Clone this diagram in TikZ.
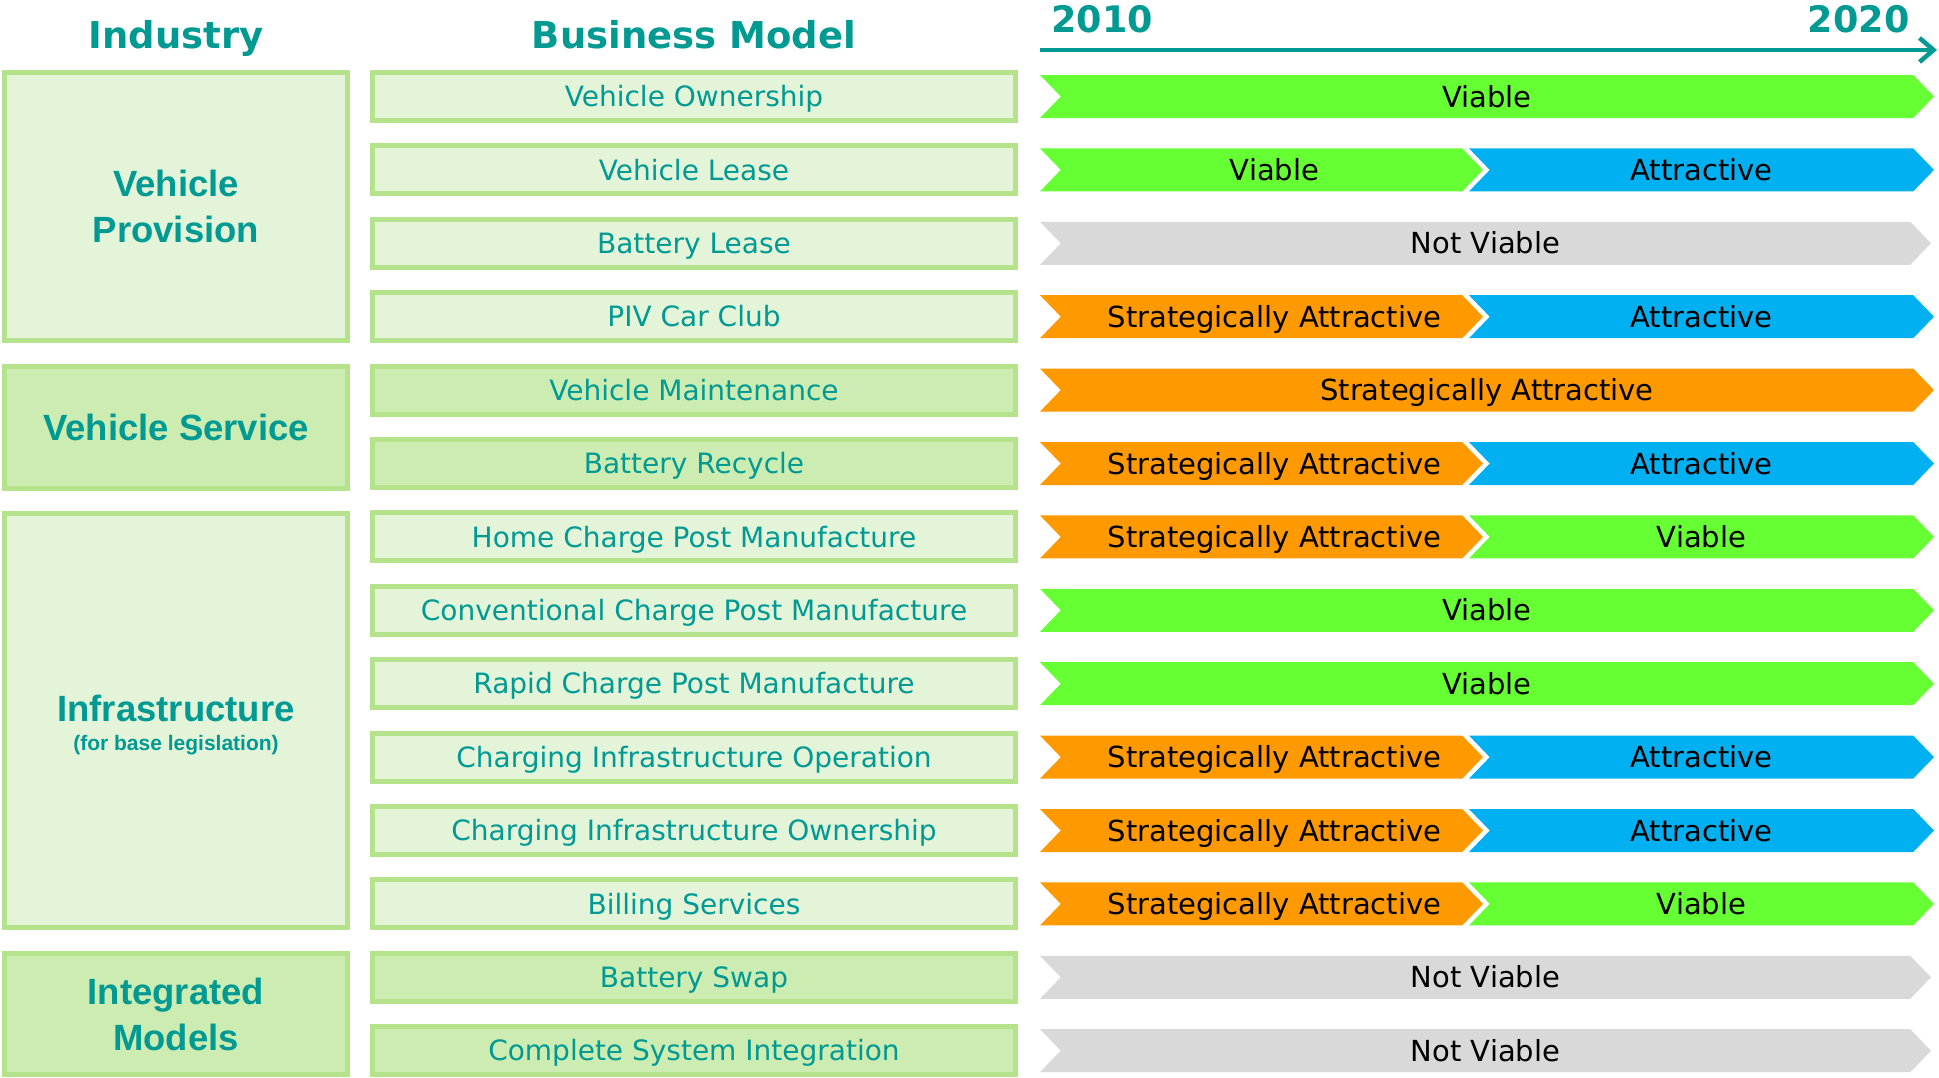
\documentclass[tikz,border=0pt]{standalone}
\usepackage{fontspec}
\setmainfont{DejaVu Sans}
\newfontfamily\arialfont{Liberation Sans}
\usetikzlibrary{positioning,shapes.symbols,arrows.meta}
\definecolor{tealtxt}{HTML}{009A93}
\definecolor{lightbox}{HTML}{E3F4D8}
\definecolor{darkbox}{HTML}{CCECB1}
\definecolor{boxline}{HTML}{B4E38C}
\definecolor{cgreen}{HTML}{66FF33}
\definecolor{cblue}{HTML}{00B0F0}
\definecolor{corange}{HTML}{FF9900}
\definecolor{cgrey}{HTML}{D9D9D9}

\begin{document}
\begin{tikzpicture}[x=1pt, y=-1pt, node distance={73.4pt},
    head/.style = {text=tealtxt, anchor=base, font=\fontsize{37}{44}\selectfont\bfseries},
    ind/.style = {draw=boxline, line width=5pt, minimum width=343pt, inner sep=0pt, text=tealtxt, align=center, font=\arialfont\fontsize{36.5}{46}\selectfont\bfseries},
    bm/.style = {draw=boxline, line width=5pt, fill=lightbox, minimum width=643pt, minimum height=48pt, inner sep=0pt, text height=27pt, text depth=6.5pt, text=tealtxt, font=\fontsize{28}{34}\selectfont},
    chev/.style = {signal, signal from=west, signal to=east, signal pointer angle=92, minimum height=43pt, inner sep=0pt, text height=28pt, text depth=6.8pt, font=\fontsize{29}{35}\selectfont},
    full/.style = {chev, minimum width=894pt},
    early/.style = {chev, minimum width=443pt, execute at begin node={\hspace{26pt}}},
    late/.style = {chev, minimum width=465pt},
    viable/.style = {fill=cgreen},
    attr/.style = {fill=cblue},
    strat/.style = {fill=corange},
    notv/.style = {fill=cgrey, minimum width=891pt, xshift=-1.5pt}]
    \useasboundingbox (0,0) rectangle (1939,1077);

    % headings and time line
    \node[head] (industry) at (176,48) {Industry};
    \node[head] (model) at (694,48) {Business Model};
    \node[head, anchor=base west, font=\fontsize{36.5}{43}\selectfont\bfseries] (start) at (1048,32) {2010};
    \node[head, anchor=base east, font=\fontsize{36.5}{43}\selectfont\bfseries] (finish) at (1913,32) {2020};
    \coordinate (t0) at (1040,50);
    \coordinate (t1) at (1937,50);
    \draw[tealtxt, line width=4.5pt, -{Straight Barb[length=14pt,width=24pt]}] (t0) -- (t1);

    % industries
    \node[ind, fill=lightbox, minimum height=268pt] (prov) at (176,206.6) {Vehicle\\Provision};
    \node[ind, fill=darkbox, minimum height=122pt] (serv) at (176,427) {Vehicle Service};
    \node[ind, fill=lightbox, minimum height=414.5pt] (infra) at (176,720.6) {};
    \node[head, font=\arialfont\fontsize{36.5}{43}\selectfont\bfseries] (infratitle) at (176,721) {Infrastructure};
    \node[head, font=\arialfont\fontsize{21}{25}\selectfont\bfseries] (infranote) at (176,750) {(for base legislation)};
    \node[ind, fill=darkbox, minimum height=121pt] (integ) at (176,1014) {Integrated\\Models};

    % business models
    \node[bm] (b1) at (694,96.5) {Vehicle Ownership};
    \node[bm] (b2) [below of = b1] {Vehicle Lease};
    \node[bm] (b3) [below of = b2] {Battery Lease};
    \node[bm] (b4) [below of = b3] {PIV Car Club};
    \node[bm, fill=darkbox] (b5) [below of = b4] {Vehicle Maintenance};
    \node[bm, fill=darkbox] (b6) [below of = b5] {Battery Recycle};
    \node[bm] (b7) [below of = b6] {Home Charge Post Manufacture};
    \node[bm] (b8) [below of = b7] {Conventional Charge Post Manufacture};
    \node[bm] (b9) [below of = b8] {Rapid Charge Post Manufacture};
    \node[bm] (b10) [below of = b9] {Charging Infrastructure Operation};
    \node[bm] (b11) [below of = b10] {Charging Infrastructure Ownership};
    \node[bm] (b12) [below of = b11] {Billing Services};
    \node[bm, fill=darkbox] (b13) [below of = b12] {Battery Swap};
    \node[bm, fill=darkbox] (b14) [below of = b13] {Complete System Integration};

    % outlook 2010 - 2020
    \coordinate (xfull) at (1487,0);
    \coordinate (xearly) at (1261.5,0);
    \coordinate (xlate) at (1701.5,0);
    \node[full, viable] (c1) at (b1 -| xfull) {Viable};
    \node[early, viable] (c2a) at (b2 -| xearly) {Viable};
    \node[late, attr] (c2b) at (b2 -| xlate) {Attractive};
    \node[full, notv] (c3) at (b3 -| xfull) {Not Viable};
    \node[early, strat] (c4a) at (b4 -| xearly) {Strategically Attractive};
    \node[late, attr] (c4b) at (b4 -| xlate) {Attractive};
    \node[full, strat] (c5) at (b5 -| xfull) {Strategically Attractive};
    \node[early, strat] (c6a) at (b6 -| xearly) {Strategically Attractive};
    \node[late, attr] (c6b) at (b6 -| xlate) {Attractive};
    \node[early, strat] (c7a) at (b7 -| xearly) {Strategically Attractive};
    \node[late, viable] (c7b) at (b7 -| xlate) {Viable};
    \node[full, viable] (c8) at (b8 -| xfull) {Viable};
    \node[full, viable] (c9) at (b9 -| xfull) {Viable};
    \node[early, strat] (c10a) at (b10 -| xearly) {Strategically Attractive};
    \node[late, attr] (c10b) at (b10 -| xlate) {Attractive};
    \node[early, strat] (c11a) at (b11 -| xearly) {Strategically Attractive};
    \node[late, attr] (c11b) at (b11 -| xlate) {Attractive};
    \node[early, strat] (c12a) at (b12 -| xearly) {Strategically Attractive};
    \node[late, viable] (c12b) at (b12 -| xlate) {Viable};
    \node[full, notv] (c13) at (b13 -| xfull) {Not Viable};
    \node[full, notv] (c14) at (b14 -| xfull) {Not Viable};
\end{tikzpicture}
\end{document}
